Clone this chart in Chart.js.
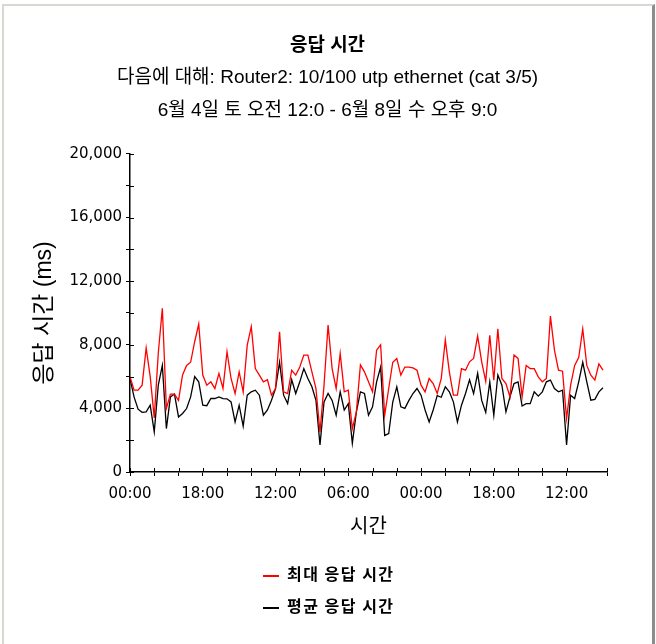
<!DOCTYPE html>
<html>
<head>
<meta charset="utf-8">
<script src="https://cdn.jsdelivr.net/npm/chart.js@4.4.1/dist/chart.umd.min.js"></script>
<style>
    html, body {
        margin: 0;
        padding: 0;
        background: #fff;
    }
    .frame {
        position: absolute;
        left: 2px;
        top: 4px;
        width: 648px;
        height: 660px;
        border-top: 2px solid #d9d7d2;
        border-left: 2px solid #d9d7d2;
        border-right: 3px solid #8c8c8c;
    }
    .chart-box {
        position: absolute;
        left: 0;
        top: 0;
        width: 656px;
        height: 644px;
    }
    #legend {
        position: absolute;
        left: 263px;
        top: 562px;
        font-family: "Noto Sans CJK KR", sans-serif;
        font-size: 16px;
        font-weight: bold;
        letter-spacing: 1.5px;
        color: #000;
    }
    #legend .item {
        height: 32px;
        line-height: 22px;
        white-space: nowrap;
    }
    #legend .swatch {
        display: inline-block;
        width: 16px;
        height: 2px;
        margin-right: 8px;
        vertical-align: middle;
    }
</style>
</head>
<body>
<div class="frame"></div>
<div class="chart-box"><canvas id="responseChart" width="656" height="644"></canvas></div>
<div id="legend"></div>

<script>
// Response time samples, one per hour from 6/4 00:00
const maxResponse = [
    6000, 5150, 5150, 5460, 7800, 6000, 3400, 7500, 10300, 4000,
    4900, 4900, 4500, 6100, 6700, 6900, 8190, 9300, 6100, 5460,
    5670, 5250, 6200, 5250, 7560, 5880, 4935, 6300, 5040, 7980,
    9135, 6500, 6090, 5670, 5800, 4830, 5250, 8820, 5040, 4935,
    6400, 6090, 6600, 7350, 7350, 6300, 5250, 2500, 5460, 9240,
    6500, 5250, 7450, 5040, 5145, 2730, 3780, 6740, 6300, 5670,
    5040, 7660, 8000, 3570, 5250, 6900, 7140, 6090, 6600, 6600,
    6550, 6400, 5460, 5040, 5880, 5560, 4935, 5880, 8300, 6300,
    4830, 4830, 6500, 6400, 6930, 7140, 8550, 6930, 5700, 8600,
    5770, 9000, 5880, 5560, 4720, 7350, 7140, 4720, 6700, 6500,
    6500, 5985, 5670, 5880, 9800, 7660, 6400, 6340, 3360, 5460,
    6700, 7200, 9000, 6700, 6090, 5780, 6800, 6400
];

const avgResponse = [
    5880, 4725, 3950, 3750, 3780, 4200, 2520, 5460, 6700, 2730,
    4725, 4900, 3460, 3680, 3990, 4725, 6000, 5670, 4200, 4170,
    4620, 4620, 4725, 4620, 4600, 4410, 3150, 4200, 2880, 4830,
    5040, 5145, 4830, 3570, 3900, 4515, 5250, 6900, 4830, 4300,
    5800, 4935, 5670, 6500, 5880, 5355, 4500, 1700, 4400, 4935,
    4500, 3570, 5040, 3900, 4300, 1800, 3780, 5040, 4935, 3570,
    4100, 5670, 6600, 2300, 2420, 4400, 5350, 4100, 4000, 4500,
    4935, 5250, 4830, 3900, 3150, 3900, 4800, 4700, 5355, 5040,
    4410, 3150, 4200, 4935, 5800, 4930, 6200, 4500, 3750, 5670,
    3570, 6100, 5460, 3780, 4720, 5560, 5670, 4150, 4300, 4300,
    5040, 4770, 5040, 5670, 5780, 5250, 5040, 5145, 1700, 4830,
    4620, 5670, 6900, 5670, 4515, 4570, 5040, 5300
];

// hour offset of each sample
const hours = maxResponse.map((_, i) => i);

// x labels every 18 hours (minor ticks every 6)
const timeLabels = ['00:00', '18:00', '12:00', '06:00', '00:00', '18:00', '12:00'];

const titleFont = '"Liberation Sans", "Noto Sans CJK KR", sans-serif';
const tickFont = '"DejaVu Sans", sans-serif';

// tick marks that cross the axis lines
const crossTicks = {
    id: 'crossTicks',
    afterDraw(chart) {
        const { ctx, chartArea, scales } = chart;
        ctx.save();
        ctx.strokeStyle = '#000';
        ctx.lineWidth = 1;
        ctx.beginPath();
        scales.x.ticks.forEach(t => {
            const px = Math.round(scales.x.getPixelForValue(t.value)) + 0.5;
            ctx.moveTo(px, chartArea.bottom);
            ctx.lineTo(px, chartArea.bottom - 4);
        });
        scales.y.ticks.forEach(t => {
            const py = Math.round(scales.y.getPixelForValue(t.value)) + 0.5;
            ctx.moveTo(chartArea.left, py);
            ctx.lineTo(chartArea.left + 4, py);
        });
        ctx.stroke();
        ctx.restore();
    }
};

const chart = new Chart(document.getElementById('responseChart'), {
    type: 'line',
    data: {
        datasets: [
            {
                label: '최대 응답 시간',
                data: maxResponse.map((v, i) => ({ x: hours[i], y: v })),
                borderColor: '#ff0000',
                borderWidth: 1.3,
                pointRadius: 0,
                tension: 0
            },
            {
                label: '평균 응답 시간',
                data: avgResponse.map((v, i) => ({ x: hours[i], y: v })),
                borderColor: '#000000',
                borderWidth: 1.3,
                pointRadius: 0,
                tension: 0
            }
        ]
    },
    options: {
        responsive: false,
        animation: false,
        layout: {
            padding: { top: 34, right: 25, bottom: 105, left: 24 }
        },
        plugins: {
            legend: { display: false },
            tooltip: { enabled: false },
            title: {
                display: true,
                text: '응답 시간',
                color: '#000',
                font: { family: titleFont, size: 19, weight: 'bold', lineHeight: 1.2 },
                padding: { top: 0, bottom: 4 }
            },
            subtitle: {
                display: true,
                text: [
                    '다음에 대해: Router2: 10/100 utp ethernet (cat 3/5)',
                    '6월 4일 토 오전 12:0 - 6월 8일 수 오후 9:0'
                ],
                color: '#000',
                font: { family: titleFont, size: 19, lineHeight: 1.74 },
                padding: { top: 0, bottom: 27 }
            }
        },
        scales: {
            x: {
                type: 'linear',
                min: 0,
                max: 118,
                border: { display: true, color: '#000', width: 1.5 },
                grid: { display: true, drawOnChartArea: false, tickLength: 4, color: '#000' },
                ticks: {
                    stepSize: 6,
                    autoSkip: false,
                    maxRotation: 0,
                    padding: 9,
                    color: '#000',
                    font: { family: tickFont, size: 15 },
                    callback: function (value) {
                        return value % 18 === 0 ? timeLabels[value / 18] : '';
                    }
                },
                title: {
                    display: true,
                    text: '시간',
                    color: '#000',
                    font: { family: titleFont, size: 20, lineHeight: 1.2 },
                    padding: { top: 3, bottom: 0 }
                }
            },
            y: {
                min: 0,
                max: 20000,
                border: { display: true, color: '#000', width: 1.5 },
                grid: { display: true, drawOnChartArea: false, tickLength: 4, color: '#000' },
                ticks: {
                    stepSize: 2000,
                    padding: 4,
                    color: '#000',
                    font: { family: tickFont, size: 15 },
                    callback: function (value) {
                        return value % 4000 === 0 ? value.toLocaleString('en-US') : '';
                    }
                },
                title: {
                    display: true,
                    text: '응답 시간 (ms)',
                    color: '#000',
                    font: { family: titleFont, size: 23, lineHeight: 1.2 },
                    padding: { top: 7, bottom: 0 }
                },
                afterFit: function (scale) {
                    scale.width = 106;
                }
            },
            // empty right-hand gutter so the titles stay centred on the page
            gutter: {
                position: 'right',
                display: true,
                grid: { display: false },
                border: { display: false },
                ticks: { display: false },
                afterFit: function (scale) {
                    scale.width = 24;
                }
            }
        }
    },
    plugins: [crossTicks]
});

// Legend rows, one per series
const legendEl = document.getElementById('legend');
chart.data.datasets.forEach(ds => {
    const row = document.createElement('div');
    row.className = 'item';
    const swatch = document.createElement('span');
    swatch.className = 'swatch';
    swatch.style.background = ds.borderColor;
    row.appendChild(swatch);
    row.appendChild(document.createTextNode(ds.label));
    legendEl.appendChild(row);
});
</script>
</body>
</html>
